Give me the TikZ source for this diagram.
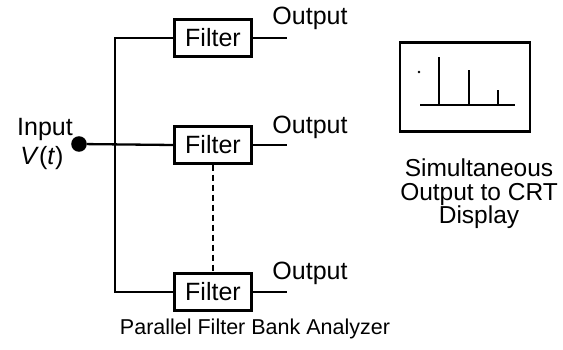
\documentclass[tikz,border=0pt]{standalone}
\usepackage{fontspec}
\setmainfont{Liberation Sans}
\usetikzlibrary{positioning}

\begin{document}
\begin{tikzpicture}[
    x=1pt, y=-1pt,
    every node/.style={font=\fontsize{25}{23}\selectfont, inner sep=0pt},
    box/.style={rectangle, draw, line width=2.3pt, minimum width=77pt, minimum height=37pt, fill=white},
    wire/.style={line width=2.3pt},
    caption/.style={align=center, font=\fontsize{24.5}{23.5}\selectfont}
]
\useasboundingbox (0,0) rectangle (563,350);

% filter bank
\node[box] (f1) at (213,38)  {Filter};
\node[box] (f2) at (213,145) {Filter};
\node[box] (f3) at (213,292) {Filter};

\coordinate (btop) at (115,38);
\coordinate (bbot) at (115,292);
\coordinate (o1) at (287,38);
\coordinate (o2) at (287,145);
\coordinate (o3) at (287,292);

\node[circle, fill, inner sep=5.5pt] (in) at (79,144) {};
\node[anchor=east] (inlbl) at (73,129) {Input};
\node (vt) at (42,158) {\textit{V}(\textit{t})};

\draw[wire] (f1.west) -- (btop) -- (bbot) -- (f3.west);
\draw[wire] (in) -- (f2.west);
\draw[wire, dash pattern=on 6pt off 4pt] (f2.south) -- (f3.north);

\draw[wire] (f1.east) -- (o1);
\draw[wire] (f2.east) -- (o2);
\draw[wire] (f3.east) -- (o3);

\node (out1) at (310,18)  {Output};
\node (out2) at (310,127) {Output};
\node (out3) at (310,273) {Output};

\node[caption, font=\fontsize{21.5}{24}\selectfont] (cap) at (255,329) {Parallel Filter Bank Analyzer};

% CRT display
\node[rectangle, draw, line width=2.3pt, minimum width=130pt, minimum height=89pt] (crt) at (465,87) {};
\draw[wire] (420,105) -- (515,105);
\draw[wire] (439,105) -- (439,57);
\draw[wire] (469,105) -- (469,70);
\draw[wire] (498,105) -- (498,90);
\fill (419,72) circle (1.3pt);

\node[caption] (crtlbl) at (479,194) {Simultaneous\\Output to CRT\\Display};
\end{tikzpicture}
\end{document}
